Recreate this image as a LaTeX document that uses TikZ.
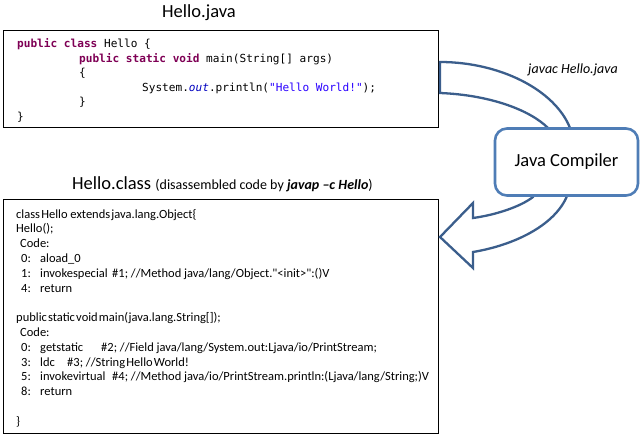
\documentclass[tikz,border=0pt]{standalone}
\usepackage{fontspec}
\setmainfont{Carlito}
\newfontfamily\codefont{DejaVu Sans Mono}
\newfontfamily\disfont{Carlito}
\definecolor{kwc}{HTML}{7F0055}
\definecolor{outc}{HTML}{0000C0}
\definecolor{strc}{HTML}{2A00FF}
\definecolor{arrowc}{HTML}{3B5E8C}
\definecolor{compc}{HTML}{4F7DB6}
\newcommand{\kwd}[1]{\textcolor{kwc}{\textbf{#1}}}
\newcommand{\numb}[1]{\makebox[19pt][l]{#1}}
\newcommand{\tsp}{\hspace{1.2pt}}
\tikzset{
  codebox/.style={draw=black, line width=1.1pt, fill=white, inner sep=0pt, anchor=north west},
  srcline/.style={anchor=base west, inner sep=0pt, font=\codefont\fontsize{11.1}{13}\selectfont},
  disline/.style={anchor=base west, inner sep=0pt, font=\disfont\fontsize{12.5}{14}\selectfont},
  titletext/.style={anchor=base, inner sep=0pt, font=\fontsize{18.5}{20}\selectfont},
  compbox/.style={draw=compc, line width=2.6pt, fill=white, rounded corners=12pt,
    minimum width=143pt, minimum height=67pt, inner sep=0pt, font=\fontsize{18.5}{20}\selectfont},
  arrowline/.style={draw=arrowc, line width=2.3pt, fill=white, line join=miter},
}
\begin{document}
\begin{tikzpicture}[x=1pt,y=-1pt]
\useasboundingbox (0,0) rectangle (642,436);
\fill[white] (0,0) rectangle (642,436);

% titles
\node[titletext] (t1) at (199,18) {Hello.java};
\node[anchor=base west, inner sep=0pt] (t2) at (72,189)
  {\fontsize{18.5}{20}\selectfont Hello.class \fontsize{14}{16}\selectfont(disassembled code by \textbf{\textit{javap –c Hello}})};

% source box
\node[codebox, minimum width=435pt, minimum height=97pt] (src) at (3,30) {};
\node[srcline] (s1) at (17,48) {\kwd{public} \kwd{class} Hello \{};
\node[srcline] (s2) at (79,62.4) {\kwd{public} \kwd{static} \kwd{void} main(String[] args)};
\node[srcline] (s3) at (79,76.8) {\{};
\node[srcline] (s4) at (142,91.2) {System.\textcolor{outc}{\textit{out}}.println(\textcolor{strc}{"Hello World!"});};
\node[srcline] (s5) at (79,105.6) {\}};
\node[srcline] (s6) at (17,120) {\}};

% class box
\node[codebox, minimum width=435pt, minimum height=234pt] (cls) at (3,199) {};
\node[disline] (d0) at (16,218) {class\tsp Hello extends\tsp java.lang.Object\{};
\node[disline] (d1) at (16,232.8) {Hello();};
\node[disline] (d2) at (20,247.6) {Code:};
\node[disline] (d3) at (21,262.4) {\numb{0:}aload\_0};
\node[disline] (d4) at (21,277.2) {\numb{1:}\makebox[72pt][l]{invokespecial}\#1; //Method java/lang/Object."<init>":()V};
\node[disline] (d5) at (21,292) {\numb{4:}return};
\node[disline] (d7) at (16,321.6) {public\tsp static\tsp void\tsp main(java.lang.String[]);};
\node[disline] (d8) at (20,336.4) {Code:};
\node[disline] (d9) at (21,351.2) {\numb{0:}\makebox[61pt][l]{getstatic}\#2; //Field java/lang/System.out:Ljava/io/PrintStream;};
\node[disline] (d10) at (21,366) {\numb{3:}\makebox[27pt][l]{ldc}\#3; //String\tsp Hello\tsp World!};
\node[disline] (d11) at (21,380.8) {\numb{5:}\makebox[72pt][l]{invokevirtual}\#4; //Method java/io/PrintStream.println:(Ljava/lang/String;)V};
\node[disline] (d12) at (21,395.6) {\numb{8:}return};
\node[disline] (d14) at (16,425.2) {\}};

% curved arrow (drawn behind the compiler box)
\draw[arrowline] (440,62) .. controls (500,62) and (555,90) .. (570,128)
  -- (567,196) .. controls (555,225) and (515,245) .. (473,252)
  -- (473,268) -- (440,237) -- (473,203) -- (473,218)
  .. controls (495,215) and (520,207) .. (533,197)
  -- (548,128) .. controls (530,110) and (490,95) .. (440,93) -- cycle;

% compiler
\node[compbox] (comp) at (566.5,162) {Java Compiler};
\node[anchor=center, inner sep=0pt, font=\itshape\fontsize{14}{16}\selectfont] (lbl) at (573,70) {javac Hello.java};
\end{tikzpicture}
\end{document}
